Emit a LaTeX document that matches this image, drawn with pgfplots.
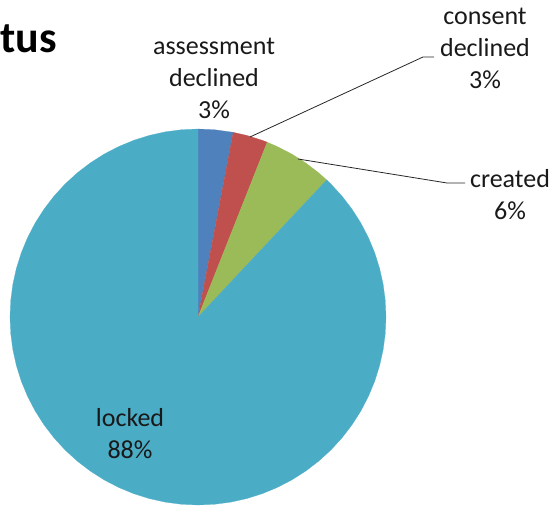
\documentclass[border=0pt]{standalone}
\usepackage{pgfplots}
\pgfplotsset{compat=1.18}
\usepgfplotslibrary{polar}
\usepackage{fontspec}
\setmainfont{Carlito}
\definecolor{sblue}{HTML}{4F81BD}
\definecolor{sred}{HTML}{C0504D}
\definecolor{sgreen}{HTML}{9BBB59}
\definecolor{steal}{HTML}{4BACC6}
\begin{document}
\begin{tikzpicture}[x=1bp,y=1bp]
\path[use as bounding box] (0,0) rectangle (553,506);
% shares: assessment declined 3%, consent declined 3%, created 6%, locked 88%
% slices run clockwise from 90 deg: 3% = 10.8 deg
\begin{polaraxis}[
  hide axis, scale only axis, width=376bp, height=376bp,
  xmin=0, xmax=360, ymin=0, ymax=1, clip=false,
  at={(198bp,189bp)}, anchor=center]
\addplot[fill=sblue, draw=sblue, line width=0.2pt] coordinates {(0,0) (90,1) (85,1) (79.2,1) (0,0)};
\addplot[fill=sred, draw=sred, line width=0.2pt] coordinates {(0,0) (79.2,1) (75,1) (70,1) (68.4,1) (0,0)};
\addplot[fill=sgreen, draw=sgreen, line width=0.2pt] coordinates {(0,0) (68.4,1) (65,1) (60,1) (55,1) (50,1) (46.8,1) (0,0)};
\addplot[fill=steal, draw=steal, line width=0.2pt] coordinates {(0,0) (46.8,1) (45,1) (40,1) (35,1) (30,1) (25,1) (20,1) (15,1) (10,1) (5,1) (0,1)
 (-5,1) (-10,1) (-15,1) (-20,1) (-25,1) (-30,1) (-35,1) (-40,1) (-45,1) (-50,1) (-55,1) (-60,1) (-65,1) (-70,1) (-75,1) (-80,1) (-85,1) (-90,1)
 (-95,1) (-100,1) (-105,1) (-110,1) (-115,1) (-120,1) (-125,1) (-130,1) (-135,1) (-140,1) (-145,1) (-150,1) (-155,1) (-160,1) (-165,1) (-170,1) (-175,1) (-180,1)
 (-185,1) (-190,1) (-195,1) (-200,1) (-205,1) (-210,1) (-215,1) (-220,1) (-225,1) (-230,1) (-235,1) (-240,1) (-245,1) (-250,1) (-255,1) (-260,1) (-265,1) (-270,1) (0,0)};
\end{polaraxis}
% leader lines
\draw[line width=0.8bp, black!85] (250,369) -- (423,449) -- (434,449);
\draw[line width=0.8bp, black!85] (298,347) -- (447,323) -- (465,323);
% labels
\node[inner sep=0, align=center, font=\fontsize{26bp}{32bp}\selectfont, text=black!90] at (214,428) {assessment\\declined\\3\%};
\node[inner sep=0, align=center, font=\fontsize{26bp}{32bp}\selectfont, text=black!90] at (485,458) {consent\\declined\\3\%};
\node[inner sep=0, align=center, font=\fontsize{26bp}{32bp}\selectfont, text=black!90] at (510,311.5) {created\\6\%};
\node[inner sep=0, align=center, font=\fontsize{26bp}{32bp}\selectfont, text=black!90] at (130,72) {locked\\88\%};
\node[inner sep=0, anchor=base west, font=\fontsize{44bp}{52bp}\selectfont\bfseries] at (0,453) {tus};
\end{tikzpicture}
\end{document}
